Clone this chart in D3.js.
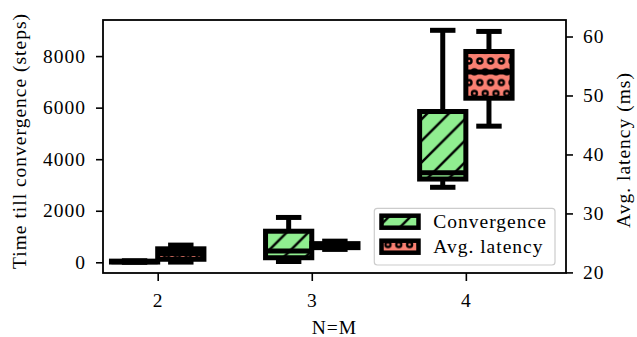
<!DOCTYPE html>
<html>
<head>
<meta charset="utf-8">
<script src="https://cdn.jsdelivr.net/npm/d3@7"></script>
<style>
	html, body { margin: 0; padding: 0; background: #fff; }
	svg text {
		font-family: "Liberation Serif", "Times New Roman", serif;
		font-size: 19.5px;
		letter-spacing: 1px;
		fill: #000;
	}
</style>
</head>
<body>
<svg id="chart" width="637" height="337"></svg>
<script>
// N=M values, one group of two boxes each
const categories = [2, 3, 4];

// box stats per category: [min, q1, median, q3, max]
const convergenceStats = [
	[0, 10, 25, 45, 60],
	[30, 177, 439, 1206, 1740],
	[2910, 3230, 3470, 5850, 9000]
];
const latencyStats = [
	[21.75, 22.23, 23.2, 24.0, 24.63],
	[23.9, 24.2, 24.5, 24.88, 25.3],
	[44.8, 49.54, 54.0, 57.46, 60.86]
];

const xTicks = [2, 3, 4];
const leftTicks = [0, 2000, 4000, 6000, 8000];
const rightTicks = [20, 30, 40, 50, 60];
const seriesNames = ['Convergence', 'Avg. latency'];

// layout
const margin = {top: 20, left: 103, right: 71, bottom: 64},
	width = 637,
	height = 337,
	plotRight = width - margin.right,
	plotBottom = height - margin.bottom;

const boxWidth = 0.3,    // in x units
	boxOffset = 0.15,    // left/right shift of the two series
	lineW = 5;

const svg = d3.select('#chart');

const x = d3.scaleLinear().domain([1.645, 4.65]).range([margin.left, plotRight]);
const yLeft = d3.scaleLinear().domain([-415, 9400]).range([plotBottom, margin.top]);
const yRight = d3.scaleLinear().domain([19.9, 62.8]).range([plotBottom, margin.top]);

// hatch patterns, anchored to the canvas like matplotlib does
const defs = svg.append('defs');
const step = 10.8;

let diag = defs.append('pattern')
	.attr('id', 'hatch-diag')
	.attr('patternUnits', 'userSpaceOnUse')
	.attr('x', 0.8).attr('y', 0)
	.attr('width', step * 2).attr('height', step * 2);
[[0, step * 2, step * 2, 0], [-2, 2, 2, -2], [step * 2 - 2, step * 2 + 2, step * 2 + 2, step * 2 - 2]]
	.forEach(function(l) {
		diag.append('line')
			.attr('x1', l[0]).attr('y1', l[1]).attr('x2', l[2]).attr('y2', l[3])
			.attr('stroke', '#000').attr('stroke-width', 2.4);
	});

let dots = defs.append('pattern')
	.attr('id', 'hatch-dots')
	.attr('patternUnits', 'userSpaceOnUse')
	.attr('x', 4.6).attr('y', 17.8)
	.attr('width', step).attr('height', step * 2);
[[0, 0], [step, 0], [0, step * 2], [step, step * 2], [step / 2, step]].forEach(function(p) {
	dots.append('circle')
		.attr('cx', p[0]).attr('cy', p[1]).attr('r', 2.5)
		.attr('fill', 'none').attr('stroke', '#000').attr('stroke-width', 2.4);
});

/**
* draw one series of boxes
* order follows matplotlib: whiskers, caps, box, median
*/
function drawBoxes(stats, yScale, offset, color, pattern) {
	let g = svg.append('g');

	stats.forEach(function(s, i) {
		let c = categories[i] + offset,
			cx = x(c),
			x0 = x(c - boxWidth / 2),
			x1 = x(c + boxWidth / 2),
			capHalf = (x1 - x0) * 0.55 / 2;

		// whiskers
		[[s[0], s[1]], [s[3], s[4]]].forEach(function(w) {
			g.append('line')
				.attr('x1', cx).attr('x2', cx)
				.attr('y1', yScale(w[0])).attr('y2', yScale(w[1]))
				.attr('stroke', '#000').attr('stroke-width', lineW);
		});

		// caps
		[s[0], s[4]].forEach(function(v) {
			g.append('line')
				.attr('x1', cx - capHalf).attr('x2', cx + capHalf)
				.attr('y1', yScale(v)).attr('y2', yScale(v))
				.attr('stroke', '#000').attr('stroke-width', lineW);
		});

		// box: fill, hatch, edge
		let by = yScale(s[3]),
			bh = yScale(s[1]) - yScale(s[3]);
		g.append('rect')
			.attr('x', x0).attr('y', by).attr('width', x1 - x0).attr('height', bh)
			.attr('fill', color);
		g.append('rect')
			.attr('x', x0).attr('y', by).attr('width', x1 - x0).attr('height', bh)
			.attr('fill', 'url(#' + pattern + ')')
			.attr('stroke', '#000').attr('stroke-width', lineW)
			.attr('stroke-linejoin', 'miter');

		// median
		g.append('line')
			.attr('x1', x0).attr('x2', x1)
			.attr('y1', yScale(s[2])).attr('y2', yScale(s[2]))
			.attr('stroke', '#000').attr('stroke-width', lineW);
	});
}

drawBoxes(convergenceStats, yLeft, -boxOffset, '#90EE90', 'hatch-diag');

// axes
let xAxis = svg.append('g')
	.attr('transform', 'translate(0,' + plotBottom + ')')
	.call(d3.axisBottom(x).tickValues(xTicks).tickFormat(d3.format('d')).tickSize(8).tickPadding(12));

let leftAxis = svg.append('g')
	.attr('transform', 'translate(' + margin.left + ',0)')
	.call(d3.axisLeft(yLeft).tickValues(leftTicks).tickFormat(d3.format('d')).tickSize(7).tickPadding(10));

drawBoxes(latencyStats, yRight, boxOffset, '#FA8072', 'hatch-dots');

let rightAxis = svg.append('g')
	.attr('transform', 'translate(' + plotRight + ',0)')
	.call(d3.axisRight(yRight).tickValues(rightTicks).tickFormat(d3.format('d')).tickSize(7).tickPadding(10));

[xAxis, leftAxis, rightAxis].forEach(function(a) {
	a.select('.domain').remove();
	a.selectAll('.tick line').attr('stroke', '#000').attr('stroke-width', 1.6);
	a.attr('font-size', null).attr('font-family', null);
});

// frame
svg.append('rect')
	.attr('x', margin.left).attr('y', margin.top)
	.attr('width', plotRight - margin.left).attr('height', plotBottom - margin.top)
	.attr('fill', 'none').attr('stroke', '#000').attr('stroke-width', 1.8);

// axis labels
svg.append('text')
	.attr('x', (margin.left + plotRight) / 2).attr('y', 333.5)
	.attr('text-anchor', 'middle')
	.text('N=M');

svg.append('text')
	.attr('transform', 'translate(26,141) rotate(-90)')
	.attr('text-anchor', 'middle')
	.text('Time till convergence (steps)');

svg.append('text')
	.attr('transform', 'translate(630,150) rotate(-90)')
	.attr('text-anchor', 'middle')
	.text('Avg. latency (ms)');

// legend
let legend = svg.append('g');
legend.append('rect')
	.attr('x', 374.3).attr('y', 208.3).attr('width', 180.7).attr('height', 56.7)
	.attr('rx', 3).attr('ry', 3)
	.attr('fill', '#fff').attr('fill-opacity', 0.8)
	.attr('stroke', '#cccccc').attr('stroke-width', 1.2);

let legendItems = [
	{name: seriesNames[0], color: '#90EE90', pattern: 'hatch-diag'},
	{name: seriesNames[1], color: '#FA8072', pattern: 'hatch-dots'}
];
legendItems.forEach(function(d, i) {
	let yy = 215.7 + i * 25;
	legend.append('rect')
		.attr('x', 381.5).attr('y', yy).attr('width', 37).attr('height', 12)
		.attr('fill', d.color);
	legend.append('rect')
		.attr('x', 381.5).attr('y', yy).attr('width', 37).attr('height', 12)
		.attr('fill', 'url(#' + d.pattern + ')')
		.attr('stroke', '#000').attr('stroke-width', 4.5);
	legend.append('text')
		.attr('x', 433.3).attr('y', yy + 12.6)
		.text(d.name);
});
</script>
</body>
</html>
